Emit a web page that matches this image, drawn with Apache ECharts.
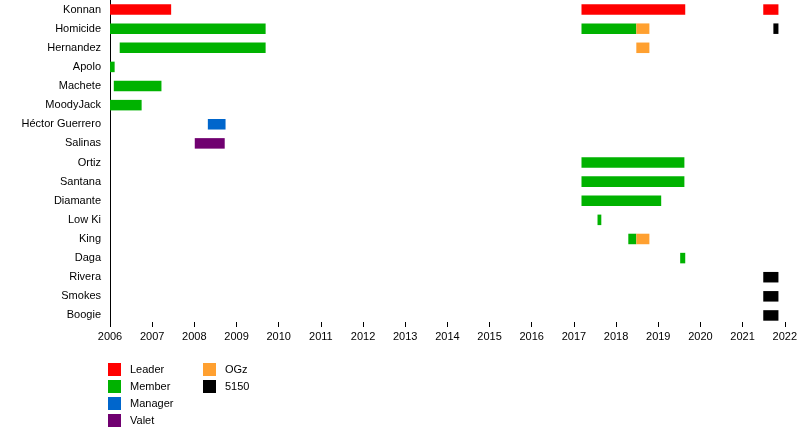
<!DOCTYPE html>
<html>
<head>
    <meta charset="UTF-8">
    <title>Timeline</title>
    <script src="https://cdn.jsdelivr.net/npm/echarts@6/dist/echarts.min.js"></script>
    <style>
        html, body { margin: 0; padding: 0; background: #fff; }
        #chart { width: 800px; height: 440px; }
    </style>
</head>
<body>
    <div id="chart"></div>
<script type="text/javascript">
    var members = ["Konnan", "Homicide", "Hernandez", "Apolo", "Machete", "MoodyJack", "Héctor Guerrero",
        "Salinas", "Ortiz", "Santana", "Diamante", "Low Ki", "King", "Daga", "Rivera", "Smokes", "Boogie"];
    var yearTicks = [2006, 2022];

    // [member, start, end] in fractional years
    var leader = [["Konnan", 2006.0, 2007.45], ["Konnan", 2017.18, 2019.64], ["Konnan", 2021.49, 2021.85]];
    var member = [
        ["Homicide", 2006.0, 2009.69], ["Hernandez", 2006.23, 2009.69], ["Apolo", 2006.0, 2006.11],
        ["Machete", 2006.09, 2007.22], ["MoodyJack", 2006.0, 2006.75],
        ["Homicide", 2017.18, 2018.48], ["Ortiz", 2017.18, 2019.62], ["Santana", 2017.18, 2019.62],
        ["Diamante", 2017.18, 2019.07], ["Low Ki", 2017.56, 2017.65], ["King", 2018.29, 2018.48],
        ["Daga", 2019.52, 2019.64]
    ];
    var manager = [["Héctor Guerrero", 2008.32, 2008.74]];
    var valet = [["Salinas", 2008.01, 2008.72]];
    var ogz = [["Homicide", 2018.48, 2018.79], ["Hernandez", 2018.48, 2018.79], ["King", 2018.48, 2018.79]];
    var fifty150 = [["Homicide", 2021.73, 2021.85], ["Rivera", 2021.49, 2021.85],
        ["Smokes", 2021.49, 2021.85], ["Boogie", 2021.49, 2021.85]];

    function toData(list){
        return list.map(function(n){
            return [members.indexOf(n[0]), n[1], n[2]];
        });
    }
    function renderBar(params, api){
        var start = api.coord([api.value(1), api.value(0)]);
        var end = api.coord([api.value(2), api.value(0)]);
        var h = api.size([0, 1])[1] * 0.55;
        return {
            type: 'rect',
            shape: { x: start[0], y: start[1] - h / 2, width: end[0] - start[0], height: h },
            style: { fill: api.visual('color') }
        };
    }
    function makeSeries(name, list, color){
        return {
            name: name,
            type: 'custom',
            renderItem: renderBar,
            itemStyle: { color: color },
            encode: { x: [1, 2], y: 0 },
            data: toData(list)
        };
    }

    var font = 'Liberation Sans, Arial, sans-serif';
    var legendText = { fontSize: 11, color: '#000', fontFamily: font, padding: [0, 0, 0, 4] };
    var option = {
        animation: false,
        textStyle: { fontFamily: font },
        grid: { left: 110, right: 14, top: -4, bottom: 115 },
        legend: [{
            orient: 'vertical', left: 108, top: 363, padding: 0, itemWidth: 13, itemHeight: 13, itemGap: 4,
            icon: 'rect', selectedMode: false, textStyle: legendText,
            data: ['Leader', 'Member', 'Manager', 'Valet']
        }, {
            orient: 'vertical', left: 203, top: 363, padding: 0, itemWidth: 13, itemHeight: 13, itemGap: 4,
            icon: 'rect', selectedMode: false, textStyle: legendText,
            data: ['OGz', '5150']
        }],
        xAxis: {
            type: 'value',
            min: yearTicks[0],
            max: yearTicks[1],
            interval: 1,
            offset: -3,
            axisLine: { lineStyle: { color: '#000', width: 1 } },
            axisTick: { show: true, length: 5, lineStyle: { color: '#000' } },
            axisLabel: {
                color: '#000', fontSize: 11, margin: 9, fontFamily: font,
                formatter: function(v){ return String(v); }
            },
            splitLine: { show: false }
        },
        yAxis: {
            type: 'category',
            inverse: true,
            data: members,
            axisLine: { lineStyle: { color: '#000', width: 1 } },
            axisTick: { show: false },
            axisLabel: { color: '#000', fontSize: 11, margin: 9, fontFamily: font },
            splitLine: { show: false }
        },
        series: [
            makeSeries('Leader', leader, '#ff0000'),
            makeSeries('Member', member, '#00b200'),
            makeSeries('Manager', manager, '#0066cc'),
            makeSeries('Valet', valet, '#700070'),
            makeSeries('OGz', ogz, '#ffa030'),
            makeSeries('5150', fifty150, '#000000')
        ]
    };
    echarts.init(document.getElementById("chart")).setOption(option);
</script>
</body>
</html>
